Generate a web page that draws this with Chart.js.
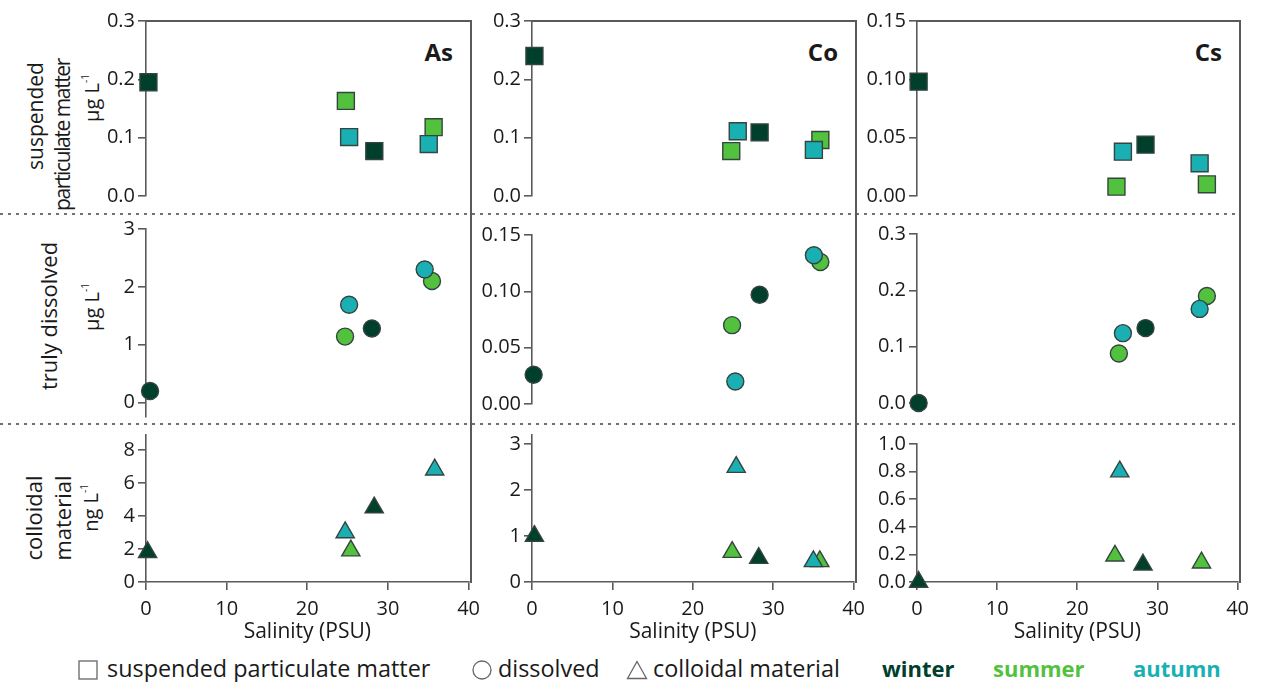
<!DOCTYPE html>
<html>
<head>
<meta charset="utf-8">
<script src="https://cdn.jsdelivr.net/npm/chart.js@4.4.1/dist/chart.umd.min.js"></script>
<style>
  body { margin: 0; background: #fff; width: 1262px; height: 682px; overflow: hidden; position: relative;
         font-family: 'Open Sans', sans-serif; color: #1a1a1a; }
  .cell { position: absolute; }
  .sep { position: absolute; left: 0; width: 1240px; height: 2px;
         background: repeating-linear-gradient(90deg, #707070 0 3px, transparent 3px 8px); }
  .frame { position: absolute; background: #5a5a5a; }
  .vlab { position: absolute; white-space: nowrap; line-height: 1; font-size: 22px;
          transform: translate(-50%, -50%) rotate(-90deg); }
  .unit { font-size: 20px; }
  .unit sup { font-size: 10px; vertical-align: 10px; }
  .elem { position: absolute; font-weight: 700; font-size: 24px; line-height: 1; transform: translate(-100%, -50%); }
  .key { position: absolute; top: 653px; height: 30px; line-height: 30px; font-size: 23.4px; white-space: nowrap; }
  .key svg { position: absolute; left: 0; top: 7px; }
  .season { font-weight: 700; font-size: 22px; }
</style>
</head>
<body>
<div id="root"></div>
<script>
const salinityTicks = [0, 10, 20, 30, 40];
const seasons = ['winter', 'summer', 'autumn'];
const seasonColors = ['#003f2c', '#52c23e', '#1ab0b3'];
const elements = ['As', 'Co', 'Cs'];

// [salinity, concentration] for each season: winter, summer, autumn
const asParticulate = [[[0.3, 0.195], [28.1, 0.077]], [[24.6, 0.163], [35.4, 0.118]], [[25.0, 0.101], [34.8, 0.089]]];
const asDissolved   = [[[0.5, 0.2], [27.8, 1.28]], [[24.5, 1.14], [35.2, 2.1]], [[25.0, 1.69], [34.3, 2.3]]];
const asColloidal   = [[[0.2, 1.8], [28.3, 4.5]], [[25.4, 1.9]], [[24.7, 3.0], [35.8, 6.8]]];
const coParticulate = [[[0.3, 0.24], [28.1, 0.109]], [[24.6, 0.077], [35.6, 0.096]], [[25.4, 0.111], [34.8, 0.079]]];
const coDissolved   = [[[0.2, 0.026], [28.1, 0.097]], [[24.7, 0.070], [35.6, 0.126]], [[25.1, 0.020], [34.8, 0.132]]];
const coColloidal   = [[[0.3, 1.0], [28.2, 0.52]], [[24.9, 0.65], [35.8, 0.45]], [[25.4, 2.5], [35.0, 0.45]]];
const csParticulate = [[[0.2, 0.098], [28.3, 0.044]], [[24.7, 0.008], [35.9, 0.010]], [[25.5, 0.038], [35.0, 0.028]]];
const csDissolved   = [[[0.2, 0.0], [28.3, 0.133]], [[25.0, 0.088], [35.9, 0.19]], [[25.5, 0.124], [35.0, 0.167]]];
const csColloidal   = [[[0.2, 0.0], [28.2, 0.125]], [[24.7, 0.19], [35.5, 0.14]], [[25.3, 0.8]]];

// y tick values per panel
const asParticulateTicks = [0, 0.1, 0.2, 0.3];
const asDissolvedTicks   = [0, 1, 2, 3];
const asColloidalTicks   = [0, 2, 4, 6, 8];
const coParticulateTicks = [0, 0.1, 0.2, 0.3];
const coDissolvedTicks   = [0, 0.05, 0.1, 0.15];
const coColloidalTicks   = [0, 1, 2, 3];
const csParticulateTicks = [0, 0.05, 0.1, 0.15];
const csDissolvedTicks   = [0, 0.1, 0.2, 0.3];
const csColloidalTicks   = [0, 0.2, 0.4, 0.6, 0.8, 1.0];

// page layout: plot area edges in px
const COLS = [{ left: 146, right: 471 }, { left: 532, right: 856 }, { left: 917, right: 1240 }];
const ROW_STYLE = [
  { point: 'rect', radius: 12 },
  { point: 'circle', radius: 8.5 },
  { point: 'triangle', radius: 10.5 }
];
const FRAME_TOP = 21, FRAME_BOTTOM = 582;
const Y_AXIS_W = 64, X_AXIS_H = 63;
const AXIS_COLOR = '#5a5a5a';

const panels = [
  { row: 0, col: 0, data: asParticulate, ticks: asParticulateTicks, min: 0, max: 0.3, dp: 1, top: 21, bottom: 196 },
  { row: 0, col: 1, data: coParticulate, ticks: coParticulateTicks, min: 0, max: 0.3, dp: 1, top: 21, bottom: 196 },
  { row: 0, col: 2, data: csParticulate, ticks: csParticulateTicks, min: 0, max: 0.15, dp: 2, top: 21, bottom: 196 },
  { row: 1, col: 0, data: asDissolved, ticks: asDissolvedTicks, min: -0.25, max: 3, dp: 0, top: 229, bottom: 417 },
  { row: 1, col: 1, data: coDissolved, ticks: coDissolvedTicks, min: 0, max: 0.15, dp: 2, top: 235, bottom: 404 },
  { row: 1, col: 2, data: csDissolved, ticks: csDissolvedTicks, min: 0, max: 0.3, dp: 1, top: 234, bottom: 403 },
  { row: 2, col: 0, data: asColloidal, ticks: asColloidalTicks, min: 0, max: 8.9, dp: 0, top: 435, bottom: FRAME_BOTTOM },
  { row: 2, col: 1, data: coColloidal, ticks: coColloidalTicks, min: 0, max: 3.2, dp: 0, top: 435, bottom: FRAME_BOTTOM },
  { row: 2, col: 2, data: csColloidal, ticks: csColloidalTicks, min: 0, max: 1.0, dp: 1, top: 444, bottom: FRAME_BOTTOM }
];

const root = document.getElementById('root');

function addDiv(cls, style, html) {
  const d = document.createElement('div');
  d.className = cls;
  Object.assign(d.style, style);
  if (html) d.innerHTML = html;
  root.appendChild(d);
  return d;
}

// row separators and panel frames
addDiv('sep', { top: '212.5px' });
addDiv('sep', { top: '422.5px' });
COLS.forEach((c, i) => {
  addDiv('frame', { left: c.left + 'px', top: (FRAME_TOP - 0.8) + 'px', width: (c.right - c.left) + 'px', height: '1.6px' });
  addDiv('frame', { left: (c.right - 0.8) + 'px', top: (FRAME_TOP - 0.8) + 'px', width: '1.6px', height: (FRAME_BOTTOM - FRAME_TOP + 1.6) + 'px' });
  addDiv('elem', { left: (c.right - 18) + 'px', top: '52px' }, elements[i]);
});

// fraction labels on the left
addDiv('vlab', { left: '35px', top: '116px', fontSize: '21px' }, 'suspended');
addDiv('vlab', { left: '62px', top: '135px', fontSize: '21px', letterSpacing: '-1.4px' }, 'particulate matter');
addDiv('vlab unit', { left: '91px', top: '98px' }, 'μg L<sup>-1</sup>');
addDiv('vlab', { left: '48px', top: '316px' }, 'truly dissolved');
addDiv('vlab unit', { left: '91px', top: '307px' }, 'μg L<sup>-1</sup>');
addDiv('vlab', { left: '33px', top: '518px' }, 'colloidal');
addDiv('vlab', { left: '62px', top: '518px' }, 'material');
addDiv('vlab unit', { left: '90px', top: '508px' }, 'ng L<sup>-1</sup>');

// legend
const sym = {
  rect: '<svg width="20" height="20"><rect x="1" y="1" width="18" height="18" fill="none" stroke="#666" stroke-width="1.3"/></svg>',
  circle: '<svg width="20" height="20"><circle cx="10" cy="10" r="9" fill="none" stroke="#666" stroke-width="1.3"/></svg>',
  triangle: '<svg width="22" height="20"><path d="M11 1.5 L20.5 18.5 L1.5 18.5 Z" fill="none" stroke="#666" stroke-width="1.3"/></svg>'
};
addDiv('key', { left: '78px', paddingLeft: '29px' }, sym.rect + 'suspended particulate matter');
addDiv('key', { left: '472px', paddingLeft: '26px' }, sym.circle + 'dissolved');
addDiv('key', { left: '626px', paddingLeft: '27px' }, sym.triangle + 'colloidal material');
[882, 993, 1133].forEach((x, i) => {
  addDiv('key season', { left: x + 'px', color: seasonColors[i] }, seasons[i]);
});

const axisFont = { family: "'Open Sans', sans-serif", size: 20 };

panels.forEach(p => {
  const c = COLS[p.col];
  const rs = ROW_STYLE[p.row];
  const last = p.row === 2;
  const padTop = Math.min(30, p.top);
  const padBottom = last ? 5 : 30;
  const left = c.left - Y_AXIS_W;
  const width = c.right - left + 16;
  const top = p.top - padTop;
  const height = (p.bottom - p.top) + padTop + padBottom + (last ? X_AXIS_H : 0);

  const cell = addDiv('cell', { left: left + 'px', top: top + 'px', width: width + 'px', height: height + 'px' });
  const canvas = document.createElement('canvas');
  cell.appendChild(canvas);

  const datasets = p.data.map((pts, i) => ({
    label: seasons[i],
    data: pts.map(([x, y]) => ({ x, y })),
    pointStyle: rs.point,
    pointRadius: rs.radius,
    pointHoverRadius: rs.radius,
    backgroundColor: seasonColors[i],
    borderColor: '#34443e',
    borderWidth: 1.4,
    order: seasons.length - 1 - i,
    clip: false
  }));

  new Chart(canvas, {
    type: 'scatter',
    data: { datasets },
    options: {
      responsive: true,
      maintainAspectRatio: false,
      animation: false,
      layout: { padding: { left: 0, right: 16, top: padTop, bottom: padBottom } },
      plugins: { legend: { display: false }, tooltip: { enabled: false } },
      scales: {
        x: {
          type: 'linear',
          display: last,
          min: 0,
          max: 40,
          afterBuildTicks: s => { s.ticks = salinityTicks.map(v => ({ value: v })); },
          afterFit: s => { if (last) s.height = X_AXIS_H; },
          ticks: { color: '#1a1a1a', font: axisFont, padding: 7, maxRotation: 0 },
          grid: { drawOnChartArea: false, drawTicks: true, tickLength: 8, color: AXIS_COLOR, lineWidth: 1.6 },
          border: { display: true, color: AXIS_COLOR, width: 1.6 },
          title: { display: true, text: 'Salinity (PSU)', color: '#1a1a1a', font: { family: "'Open Sans', sans-serif", size: 21 }, padding: 0 }
        },
        y: {
          type: 'linear',
          min: p.min,
          max: p.max,
          afterBuildTicks: s => { s.ticks = p.ticks.map(v => ({ value: v })); },
          afterFit: s => { s.width = Y_AXIS_W; },
          ticks: { color: '#1a1a1a', font: axisFont, padding: 3, callback: v => v.toFixed(p.dp) },
          grid: { drawOnChartArea: false, drawTicks: true, tickLength: 8, color: AXIS_COLOR, lineWidth: 1.6 },
          border: { display: true, color: AXIS_COLOR, width: 1.6 }
        }
      }
    }
  });
});
</script>
</body>
</html>
